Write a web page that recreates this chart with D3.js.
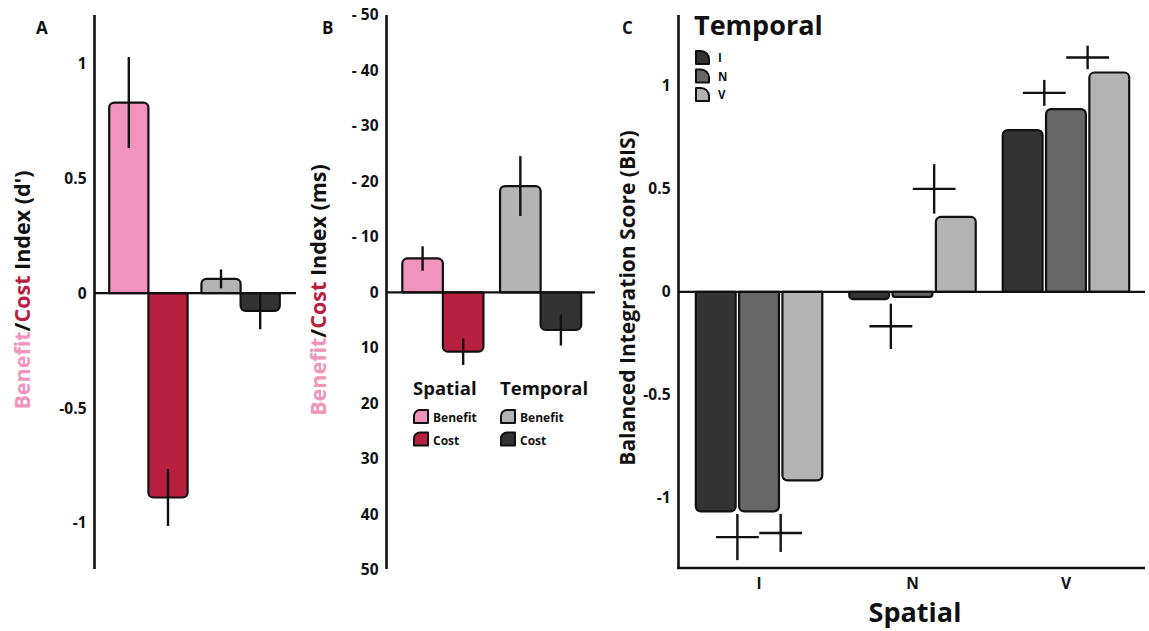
<!DOCTYPE html>
<html><head><meta charset="utf-8">
<script src="https://cdn.jsdelivr.net/npm/d3@7"></script>
<style>
body{margin:0;background:#fff}
text{font-family:'Open Sans',sans-serif;font-weight:700;fill:#111}
</style>
</head><body><svg id="chart" width="1149" height="631"></svg>
<script>
// ---------- DATA ----------
const dimensions = ["Spatial", "Temporal"];
const conditions = ["Benefit", "Cost"];
// Panel A: d' index (Spatial Benefit, Spatial Cost, Temporal Benefit, Temporal Cost)
const dprimeSpatial = [0.829, -0.889];
const dprimeSpatialErr = [0.198, 0.124];
const dprimeTemporal = [0.062, -0.077];
const dprimeTemporalErr = [0.041, 0.080];
const ticksA = [-1, -0.5, 0, 0.5, 1];
// Panel B: RT index (ms)
const rtSpatial = [-6.1, 10.7];
const rtSpatialErr = [2.2, 2.4];
const rtTemporal = [-19.15, 6.8];
const rtTemporalErr = [5.4, 2.8];
const ticksB = [-50, -40, -30, -20, -10, 0, 10, 20, 30, 40, 50];
// Panel C: BIS by Spatial (groups) x Temporal (series)
const spatialCats = ["I", "N", "V"];
const temporalCats = ["I", "N", "V"];
const bisTemporalI = [-1.065, -0.035, 0.785];
const bisTemporalN = [-1.065, -0.024, 0.887];
const bisTemporalV = [-0.915, 0.364, 1.065];
// extra cross markers (left = between I/N bars, right = between N/V bars)
const crossLeft = [-1.19, -0.167, 0.966];
const crossLeftErr = [0.112, 0.11, 0.063];
const crossRight = [-1.17, 0.50, 1.138];
const crossRightErr = [0.092, 0.12, 0.057];
const ticksC = [-1, -0.5, 0, 0.5, 1];

// ---------- STYLE ----------
const colAB = {Spatial: {Benefit: "#f093bd", Cost: "#b8203f"}, Temporal: {Benefit: "#b3b3b3", Cost: "#333333"}};
const colC = {I: "#333333", N: "#676767", V: "#b3b3b3"};
const svg = d3.select("#chart");

function barPath(x, w, yBase, yEnd, r) {
  const h = Math.abs(yEnd - yBase);
  r = Math.min(r, h / 2, w / 2);
  if (yEnd < yBase) {
    return `M${x},${yBase}V${yEnd + r}A${r},${r} 0 0 1 ${x + r},${yEnd}H${x + w - r}A${r},${r} 0 0 1 ${x + w},${yEnd + r}V${yBase}Z`;
  }
  return `M${x},${yBase}V${yEnd - r}A${r},${r} 0 0 0 ${x + r},${yEnd}H${x + w - r}A${r},${r} 0 0 0 ${x + w},${yEnd - r}V${yBase}Z`;
}
function vline(g, x, y1, y2, w) {
  g.append("line").attr("x1", x).attr("x2", x).attr("y1", y1).attr("y2", y2)
    .attr("stroke", "#111").attr("stroke-width", w);
}
function hline(g, x1, x2, y, w) {
  g.append("line").attr("x1", x1).attr("x2", x2).attr("y1", y).attr("y2", y)
    .attr("stroke", "#111").attr("stroke-width", w);
}
function yAxis(g, scale, x, ticks, fmt, fs) {
  const ax = g.append("g").attr("transform", `translate(${x},0)`)
    .call(d3.axisLeft(scale).tickValues(ticks).tickSize(0).tickSizeOuter(0).tickPadding(8).tickFormat(fmt));
  ax.select(".domain").remove();
  ax.selectAll("text").style("font-family", "'Open Sans',sans-serif").style("font-weight", 700)
    .style("font-size", fs + "px").attr("fill", "#111");
  return ax;
}
function rotTitle(g, cx, cy, parts, fs) {
  const t = g.append("text").attr("transform", `translate(${cx},${cy}) rotate(-90)`)
    .attr("text-anchor", "middle").attr("dy", "0.35em").style("font-size", fs + "px");
  parts.forEach(p => t.append("tspan").text(p[0]).style("fill", p[1]));
}

// ---------- PANEL A & B ----------
function panelAB(opts) {
  const g = svg.append("g");
  const y = opts.y;
  const x0 = d3.scaleBand().domain(dimensions).range(opts.xr).paddingInner(opts.pi).paddingOuter(opts.po);
  const x1 = d3.scaleBand().domain(conditions).range([0, x0.bandwidth()]).padding(0);
  const series = {Spatial: [opts.sp, opts.spE], Temporal: [opts.tp, opts.tpE]};
  const zero = y(0);
  dimensions.forEach(dim => {
    conditions.forEach((c, i) => {
      const v = series[dim][0][i];
      const bx = x0(dim) + x1(c);
      g.append("path").attr("d", barPath(bx, x1.bandwidth(), zero, y(v), 5))
        .attr("fill", colAB[dim][c]).attr("stroke", "#111").attr("stroke-width", 2.2)
        .attr("stroke-linejoin", "round");
    });
  });
  hline(g, opts.axisX, opts.zeroEnd, zero, 2.2);
  dimensions.forEach(dim => {
    conditions.forEach((c, i) => {
      const v = series[dim][0][i], e = series[dim][1][i];
      const cx = x0(dim) + x1(c) + x1.bandwidth() / 2;
      vline(g, cx, y(v - e), y(v + e), 2.4);
    });
  });
  vline(g, opts.axisX, 15, 569, 2.6);
  yAxis(g, y, opts.axisX, opts.ticks, opts.fmt, 15.5);
  rotTitle(g, opts.titleX, 290, [["Benefit", "#f093bd"], ["/", "#111"], ["Cost", "#b8203f"], [opts.titleRest, "#111"]], 21.5);
  g.append("text").attr("x", opts.letterX).attr("y", 34).text(opts.letter).style("font-size", "17px");
  return {g, x0, x1};
}

panelAB({
  y: d3.scaleLinear().domain([-1.2, 1.21]).range([569, 15]),
  xr: [94, 295], pi: 0.15, po: 0.165,
  sp: dprimeSpatial, spE: dprimeSpatialErr, tp: dprimeTemporal, tpE: dprimeTemporalErr,
  axisX: 94.5, zeroEnd: 296, ticks: ticksA, fmt: d => String(d),
  titleX: 22, titleRest: " Index (d')", letter: "A", letterX: 36
});

panelAB({
  y: d3.scaleLinear().domain([-50, 50]).range([15, 569.6]),
  xr: [386, 597.5], pi: 0.17, po: 0.167,
  sp: rtSpatial, spE: rtSpatialErr, tp: rtTemporal, tpE: rtTemporalErr,
  axisX: 386.5, zeroEnd: 595, ticks: ticksB, fmt: d => d < 0 ? "- " + Math.abs(d) : String(d),
  titleX: 318, titleRest: " Index (ms)", letter: "B", letterX: 322
});

// Legend B
function swatchTL(g, x, y, w, h, r, fill) {
  g.append("path").attr("d", `M${x},${y + h}V${y + r}A${r},${r} 0 0 1 ${x + r},${y}H${x + w}V${y + h}Z`)
    .attr("fill", fill).attr("stroke", "#111").attr("stroke-width", 2).attr("stroke-linejoin", "round");
}
const legB = svg.append("g");
const legBx = {Spatial: 414, Temporal: 501};
dimensions.forEach(dim => {
  legB.append("text").attr("x", legBx[dim] - 1).attr("y", 395).text(dim).style("font-size", "18.5px");
  conditions.forEach((c, i) => {
    const yy = 410 + i * 22.5;
    swatchTL(legB, legBx[dim], yy, 14, 13, 6, colAB[dim][c]);
    legB.append("text").attr("x", legBx[dim] + 19).attr("y", yy + 12).text(c).style("font-size", "12px");
  });
});

// ---------- PANEL C ----------
const gC = svg.append("g");
const yC = d3.scaleLinear().domain([-1.34, 1.344]).range([568, 15]);
const xC = d3.scaleBand().domain(spatialCats).range([682, 1143]).paddingInner(0.176).paddingOuter(0.09);
const xCi = d3.scaleBand().domain(temporalCats).range([0, xC.bandwidth()]).paddingInner(0.08).paddingOuter(0);
const bisSeries = {I: bisTemporalI, N: bisTemporalN, V: bisTemporalV};
const zC = yC(0);
spatialCats.forEach((s, si) => {
  temporalCats.forEach(t => {
    const v = bisSeries[t][si];
    gC.append("path").attr("d", barPath(xC(s) + xCi(t), xCi.bandwidth(), zC, yC(v), 5))
      .attr("fill", colC[t]).attr("stroke", "#111").attr("stroke-width", 2.2).attr("stroke-linejoin", "round");
  });
});
hline(gC, 678, 1145, zC, 2.2);
const gap = xCi.step() - xCi.bandwidth();
spatialCats.forEach((s, si) => {
  [[crossLeft, crossLeftErr, 1], [crossRight, crossRightErr, 2]].forEach(([m, e, k]) => {
    const cx = xC(s) + xCi(temporalCats[k]) - gap / 2;
    const hw = xCi.bandwidth() / 2 + 1.5;
    hline(gC, cx - hw, cx + hw, yC(m[si]), 2.4);
    vline(gC, cx, yC(m[si] + e[si]), yC(m[si] - e[si]), 2.4);
  });
});
vline(gC, 678.5, 15, 569, 2.6);
hline(gC, 677, 1145, 568, 2.6);
yAxis(gC, yC, 678.5, ticksC, d => String(d), 15.5);
const xAx = gC.append("g").attr("transform", "translate(0,568)")
  .call(d3.axisBottom(xC).tickSize(0).tickPadding(10));
xAx.select(".domain").remove();
xAx.selectAll("text").style("font-family", "'Open Sans',sans-serif").style("font-weight", 700)
  .style("font-size", "15.5px").attr("fill", "#111");
gC.append("text").attr("x", 915).attr("y", 622).attr("text-anchor", "middle").text("Spatial").style("font-size", "27px");
rotTitle(gC, 628, 298, [["Balanced Integration Score (BIS)", "#111"]], 21);
gC.append("text").attr("x", 622).attr("y", 34).text("C").style("font-size", "17px");
gC.append("text").attr("x", 694).attr("y", 35).text("Temporal").style("font-size", "27px");
function swatchTR(g, x, y, w, h, r, fill) {
  g.append("path").attr("d", `M${x},${y}H${x + w - r}A${r},${r} 0 0 1 ${x + w},${y + r}V${y + h}H${x}Z`)
    .attr("fill", fill).attr("stroke", "#111").attr("stroke-width", 2).attr("stroke-linejoin", "round");
}
temporalCats.forEach((t, i) => {
  const yy = 51 + i * 18.5;
  swatchTR(gC, 696, yy, 13, 13, 8, colC[t]);
  gC.append("text").attr("x", 718).attr("y", yy + 11).text(t).style("font-size", "11.5px");
});
</script>
</body></html>
